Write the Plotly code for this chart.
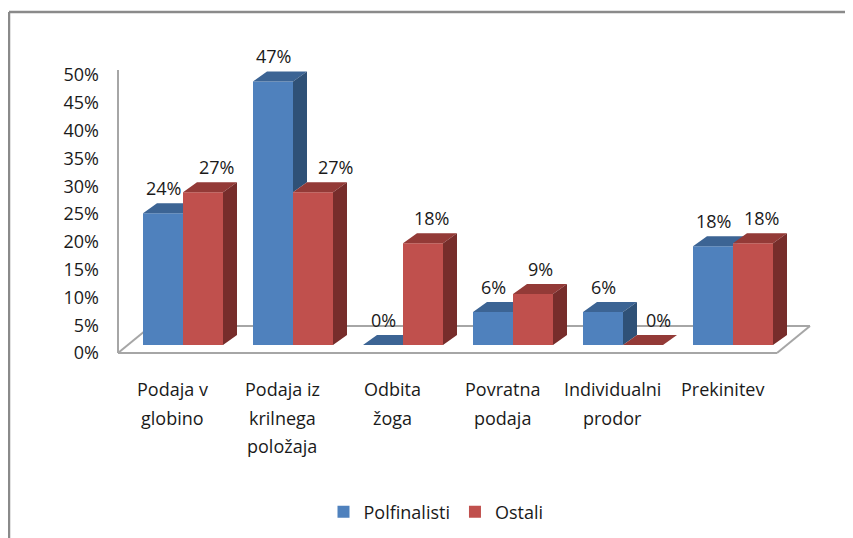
import plotly.graph_objects as go

# ---- data ----
categories = ["Podaja v<br>globino", "Podaja iz<br>krilnega<br>položaja", "Odbita<br>žoga",
              "Povratna<br>podaja", "Individualni<br>prodor", "Prekinitev"]
polfinalisti = [23.53, 47.06, 0.0, 5.88, 5.88, 17.65]   # %
ostali = [27.27, 27.27, 18.18, 9.09, 0.0, 18.18]        # %
series_names = ["Polfinalisti", "Ostali"]
tick_values = [0, 5, 10, 15, 20, 25, 30, 35, 40, 45, 50]
tick_text = [f"{v}%" for v in tick_values]

# ---- style / geometry (reference pixel positions) ----
W, H = 853, 538
OFF = 8                      # page body margin
L, R, T, B = 92, 5, 42, 188  # figure margins
PW, PH = W - L - R, H - T - B
X0PX, XPX = 183, 110          # ref pixel of category 0, px per category
Y0PX, YPX = 345, 5.6          # ref pixel of bar base, px per %
Y2_0PX, Y2PX = 353, 5.56      # label axis
BW = 40 / XPX                 # bar width
DX, DY = 14 / XPX, 10 / YPX   # bar depth
FDX, FDY = 33 / XPX, 27 / YPX # floor depth
FONT = "'Open Sans', sans-serif"
FS = 18
TXT = "#1a1a1a"
BLUE, BLUE_TOP, BLUE_SIDE = "#4F81BD", "#3C6494", "#2F5177"
RED, RED_TOP, RED_SIDE = "#C0504D", "#933A37", "#772D2B"
red_label_shift_px = [13, 22, 8, 7, 15, 8]

def ux(px):
    return (px - X0PX) / XPX

def uy(px):
    return (Y0PX - px) / YPX

def py(px):  # ref pixel -> paper y
    return (T + PH - (px - OFF)) / PH

def px_x(px):  # ref pixel -> paper x
    return ((px - OFF) - L) / PW

left_ref, right_ref = L + OFF, L + PW + OFF
top_ref, bot_ref = T + OFF, T + PH + OFF
xr = [ux(left_ref), ux(right_ref)]
yr = [uy(bot_ref), uy(top_ref)]
y2r = [(Y2_0PX - bot_ref) / Y2PX, (Y2_0PX - top_ref) / Y2PX]

fig = go.Figure()

# front faces as real bars
fig.add_trace(go.Bar(x=list(range(len(categories))), y=polfinalisti, width=BW, offset=-BW,
                     name=series_names[0], marker=dict(color=BLUE, line=dict(width=0)),
                     hoverinfo="skip"))
fig.add_trace(go.Bar(x=list(range(len(categories))), y=ostali, width=BW, offset=0,
                     name=series_names[1], marker=dict(color=RED, line=dict(width=0)),
                     hoverinfo="skip"))

def add_polys(polys, color):
    xs, ys = [], []
    for p in polys:
        if not p:
            continue
        for (a, b) in p:
            xs.append(a); ys.append(b)
        xs.append(p[0][0]); ys.append(p[0][1])
        xs.append(None); ys.append(None)
    fig.add_trace(go.Scatter(x=xs, y=ys, mode="lines", fill="toself", fillcolor=color,
                             line=dict(width=0, color=color), showlegend=False,
                             hoverinfo="skip"))

b_tops, b_sides, r_tops, r_sides = [], [], [], []
for i, (vb, vr) in enumerate(zip(polfinalisti, ostali)):
    x0, x1 = i - BW, i
    if vb >= vr:
        b_tops.append([(x0, vb), (x1, vb), (x1 + DX, vb + DY), (x0 + DX, vb + DY)])
    elif vb + DY <= vr:
        b_tops.append([(x0, vb), (x1, vb), (x1, vb + DY), (x0 + DX, vb + DY)])
    else:
        b_tops.append([(x0, vb), (x1, vb), (x1, vr), (x1 + DX * (vr - vb) / DY, vr),
                       (x1 + DX, vb + DY), (x0 + DX, vb + DY)])
    if vb > vr:
        b_sides.append([(x1, vr), (x1 + DX, vr + DY), (x1 + DX, vb + DY), (x1, vb)])
    r0, r1 = i, i + BW
    r_tops.append([(r0, vr), (r1, vr), (r1 + DX, vr + DY), (r0 + DX, vr + DY)])
    r_sides.append([(r1, 0), (r1 + DX, DY), (r1 + DX, vr + DY), (r1, vr)])

add_polys(b_tops, BLUE_TOP)
add_polys(b_sides, BLUE_SIDE)
add_polys(r_tops, RED_TOP)
add_polys(r_sides, RED_SIDE)

# helper trace for label axis
fig.add_trace(go.Scatter(x=[None], y=[None], yaxis="y2", showlegend=False, hoverinfo="skip"))

# value labels
ann = []
for i, (vb, vr) in enumerate(zip(polfinalisti, ostali)):
    ann.append(dict(x=i - BW / 2, y=vb + DY, text=f"{round(vb)}%", showarrow=False,
                    yanchor="bottom", yshift=1, font=dict(size=FS, color=TXT, family=FONT)))
    ann.append(dict(x=i + BW / 2 + red_label_shift_px[i] / XPX, y=vr + DY, text=f"{round(vr)}%",
                    showarrow=False, yanchor="bottom", yshift=1,
                    font=dict(size=FS, color=TXT, family=FONT)))

# category labels (one annotation per line)
for i, c in enumerate(categories):
    for k, line in enumerate(c.split("<br>")):
        ann.append(dict(x=i - 0.1, xref="x", y=py(389 + 28.5 * k), yref="paper", text=line,
                        showarrow=False, yanchor="middle",
                        font=dict(size=FS, color=TXT, family=FONT)))

# floor & wall outline
gray = "#a6a6a6"
fl, frx = ux(118), ux(777)
fy = uy(353)
shapes = [
    dict(type="line", x0=fl, y0=fy, x1=frx, y1=fy, line=dict(color=gray, width=2), layer="below"),
    dict(type="line", x0=frx, y0=fy, x1=frx + FDX, y1=fy + FDY, line=dict(color=gray, width=2), layer="below"),
    dict(type="line", x0=fl + FDX, y0=fy + FDY, x1=frx + FDX, y1=fy + FDY, line=dict(color=gray, width=2), layer="below"),
    dict(type="line", x0=fl, y0=fy, x1=fl + FDX, y1=fy + FDY, line=dict(color=gray, width=2), layer="below"),
    dict(type="line", x0=fl, y0=fy, x1=fl, y1=uy(70), line=dict(color=gray, width=2), layer="below"),
    # chart frame (top and left)
    dict(type="line", xref="paper", yref="paper", x0=px_x(9), y0=py(12), x1=px_x(870), y1=py(12),
         line=dict(color="#8a8a8a", width=2.5)),
    dict(type="line", xref="paper", yref="paper", x0=px_x(9), y0=py(12), x1=px_x(9), y1=py(560),
         line=dict(color="#8a8a8a", width=2.5)),
]

fig.update_layout(
    width=W, height=H, margin=dict(l=L, r=R, t=T, b=B),
    paper_bgcolor="white", plot_bgcolor="rgba(0,0,0,0)",
    barmode="overlay", showlegend=True,
    xaxis=dict(range=xr, visible=False, fixedrange=True),
    yaxis=dict(range=yr, visible=False, fixedrange=True),
    yaxis2=dict(range=y2r, overlaying="y", side="left", anchor="x", tickmode="array",
                tickvals=tick_values, ticktext=tick_text,
                showgrid=False, zeroline=False, showline=False, ticks="",
                tickfont=dict(size=FS, color=TXT, family=FONT), fixedrange=True),
    legend=dict(orientation="h", x=px_x(436), xanchor="center", y=py(512), yanchor="middle",
                font=dict(size=FS, color=TXT, family=FONT), bgcolor="rgba(0,0,0,0)"),
    annotations=ann, shapes=shapes,
)

fig.write_html("out.html")
